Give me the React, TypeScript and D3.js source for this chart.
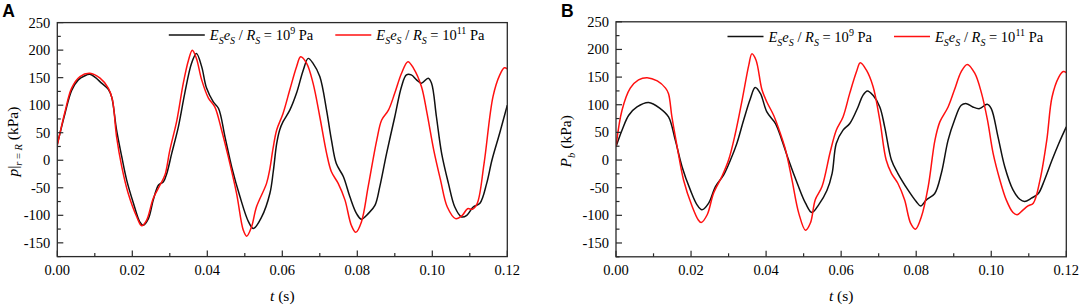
import React from "react";
import * as d3 from "d3";

// ---------- data ----------
const tTicks = [0, 0.02, 0.04, 0.06, 0.08, 0.1, 0.12];
const tTickLabels = ["0.00", "0.02", "0.04", "0.06", "0.08", "0.10", "0.12"];
const tMinorTicks = [0.01, 0.03, 0.05, 0.07, 0.09, 0.11];
const yTicks = [-150, -100, -50, 0, 50, 100, 150, 200, 250];
const yMinorTicks = [-175, -125, -75, -25, 25, 75, 125, 175, 225];
const seriesNames = ["9", "11"];

// time in ms, pressure in kPa
const panelA_E9: [number, number][] = [
  [0, 29], [2.05, 85], [3.83, 127], [5.6, 146], [7.2, 153], [8.7, 156], [10.2, 150], [11.8, 140],
  [13.6, 129], [14.5, 115], [15.8, 55], [17.2, 6], [18.5, -36], [20.3, -78], [22.0, -112], [22.9, -118],
  [24.3, -106], [25.6, -72], [27.0, -45], [28.3, -39], [29.2, -24], [30.5, 12], [32.3, 61], [34.0, 122],
  [35.8, 176], [37.1, 194], [38.5, 170], [39.8, 131], [41.6, 106], [43.0, 94], [44.7, 43], [46.5, -12],
  [48.7, -66], [51.0, -112], [52.3, -124], [54.5, -103], [56.7, -60], [57.6, -20], [58.5, 30], [59.3, 55],
  [60.2, 70], [62.0, 91], [63.8, 122], [65.6, 164], [66.9, 185], [68.2, 176], [70.0, 152], [71.8, 91],
  [73.1, 37], [74.4, -6], [76.3, -30], [78.0, -66], [79.8, -97], [81.1, -107], [82.9, -97], [84.7, -82],
  [86.0, -48], [87.8, 12], [90.0, 79], [91.8, 134], [93.1, 155], [94.4, 155], [95.8, 146], [97.1, 140],
  [98.9, 149], [99.8, 140], [101.1, 79], [102.5, 12], [104.3, -42], [106.0, -85], [107.8, -103], [109.2, -100],
  [110.9, -85], [112.7, -78], [114.5, -42], [115.9, 0], [118.0, 50], [120, 100],
];
const panelA_E11: [number, number][] = [
  [0, 27], [2.05, 88], [3.83, 131], [6.05, 152], [8.7, 158], [11.4, 149], [13.6, 131], [14.7, 110],
  [15.8, 43], [17.2, -12], [18.9, -60], [21.2, -103], [22.5, -119], [23.8, -109], [25.6, -69], [27.4, -45],
  [28.7, -27], [30.0, 18], [31.9, 73], [33.6, 140], [35.0, 182], [36.0, 200], [37.1, 185], [38.5, 146],
  [40.3, 113], [42.0, 97], [43.8, 55], [45.6, 6], [47.8, -60], [49.6, -127], [50.5, -138], [51.8, -121],
  [53.1, -85], [55.8, -42], [56.7, -15], [57.5, 20], [58.5, 55], [60.2, 85], [62.0, 128], [63.8, 170],
  [64.9, 188], [66.5, 176], [68.2, 140], [70.0, 79], [71.8, 13], [73.1, -21], [74.9, -42], [76.7, -72],
  [78.4, -118], [79.6, -131], [81.1, -112], [82.9, -48], [85.2, 37], [86.5, 73], [88.3, 91], [90.0, 122],
  [91.8, 158], [93.5, 179], [95.0, 167], [97.1, 134], [98.6, 85], [100.4, 18], [102.2, -36], [104.0, -85],
  [106.2, -106], [108.0, -100], [109.4, -88], [110.7, -89], [112.0, -78], [113.8, -6], [116.2, 116],
  [118.0, 155], [119.2, 168], [120, 166],
];
const panelB_E9: [number, number][] = [
  [0, 24], [1.6, 54], [3.4, 81], [5.6, 96], [8.7, 104], [11.8, 93], [14.0, 78], [15.8, 36],
  [17.6, -12], [19.8, -54], [21.6, -81], [22.9, -90], [24.7, -78], [26.5, -48], [28.7, -27], [30.5, 0],
  [32.2, 30], [34.0, 72], [35.8, 111], [37.1, 131], [38.5, 120], [40.2, 87], [42.5, 66], [44.2, 36],
  [46.0, 0], [48.3, -42], [50.5, -78], [52.2, -95], [54.0, -81], [56.2, -55], [57.6, -24], [58.7, 30],
  [60.5, 54], [62.3, 66], [64.5, 96], [65.8, 117], [67.0, 125], [68.5, 117], [70.3, 96], [71.6, 60],
  [73.4, 0], [75.1, -24], [77.8, -54], [80.0, -75], [81.2, -83], [82.7, -72], [84.9, -61], [86.7, -24],
  [88.5, 36], [90.2, 72], [92.0, 99], [93.4, 102], [95.1, 96], [96.9, 93], [98.9, 101], [100.0, 93],
  [101.8, 42], [103.6, -12], [105.8, -54], [107.6, -71], [108.9, -75], [110.7, -69], [112.5, -61],
  [114.2, -36], [116.2, 0], [118.0, 30], [120, 60],
];
const panelB_E11: [number, number][] = [
  [0, 24], [1.6, 90], [3.8, 130], [6.0, 145], [8.3, 149], [11.0, 143], [13.2, 130], [14.0, 120],
  [14.9, 78], [16.3, 24], [18.0, -36], [20.3, -84], [21.9, -108], [22.7, -113], [24.3, -99], [26.0, -60],
  [28.2, -30], [30.0, 0], [31.8, 48], [33.6, 108], [35.4, 172], [36.2, 192], [37.3, 181], [38.9, 127],
  [40.2, 105], [42.0, 81], [43.8, 48], [45.2, 18], [46.9, -36], [48.7, -96], [50.5, -127], [51.8, -114],
  [53.1, -72], [54.9, -48], [57.1, 15], [58.7, 54], [60.5, 78], [62.3, 121], [64.1, 160], [65.1, 176],
  [66.7, 163], [68.5, 133], [70.3, 72], [72.0, 0], [73.4, -24], [75.1, -42], [76.9, -72], [78.5, -114],
  [79.8, -125], [81.4, -102], [83.2, -48], [85.0, 36], [86.3, 69], [88.5, 96], [90.2, 127], [92.0, 160],
  [93.6, 173], [95.6, 157], [97.4, 121], [99.0, 72], [100.5, 12], [102.3, -36], [104.0, -72], [105.8, -95],
  [106.9, -99], [108.5, -90], [109.8, -83], [111.2, -78], [113.0, -36], [114.8, 36], [116.2, 114],
  [118.0, 150], [119.2, 160], [120, 158],
];

// ---------- style ----------
const SERIF = "Liberation Serif, Times New Roman, serif";
const SANS = "Liberation Sans, Arial, sans-serif";
const BLACK = "#111111";
const RED = "#ff1010";
const FRAME = "#2a2a2a";

function LegendLabel({ x, y, exp }: { x: number; y: number; exp: string }) {
  return (
    <text x={x} y={y} fontFamily={SERIF} fontSize={14.5} fill="#000" style={{ whiteSpace: "pre" }}>
      <tspan fontStyle="italic">E</tspan>
      <tspan fontStyle="italic" fontSize={10} dy={3.5}>S</tspan>
      <tspan fontStyle="italic" dy={-3.5}>e</tspan>
      <tspan fontStyle="italic" fontSize={10} dy={3.5}>S</tspan>
      <tspan dy={-3.5}>{" / "}</tspan>
      <tspan fontStyle="italic">R</tspan>
      <tspan fontStyle="italic" fontSize={10} dy={3.5}>S</tspan>
      <tspan dy={-3.5}>{" = 10"}</tspan>
      <tspan fontSize={10} dy={-6}>{exp}</tspan>
      <tspan dy={6}>{" Pa"}</tspan>
    </text>
  );
}

type PanelProps = {
  left: number;
  top: number;
  w: number;
  h: number;
  soft: [number, number][];
  stiff: [number, number][];
  letter: string;
  ylabel: React.ReactNode;
  ylabelX: number;
  legendY: number;
};

function Panel({ left, top, w, h, soft, stiff, letter, ylabel, ylabelX, legendY }: PanelProps) {
  const x = d3.scaleLinear().domain([0, 0.12]).range([0, w]);
  const y = d3.scaleLinear().domain([-175, 250]).range([h, 0]);
  const line = d3
    .line<[number, number]>()
    .x((d) => x(d[0] / 1000))
    .y((d) => y(d[1]))
    .curve(d3.curveCatmullRom.alpha(0.5));
  const clipId = `clip-${letter}`;
  return (
    <g>
      <text x={left - 55} y={16.5} fontFamily={SANS} fontWeight="bold" fontSize={17.5} fill="#000">
        {letter}
      </text>
      <g transform={`translate(${left},${top})`}>
        <defs>
          <clipPath id={clipId}>
            <rect x={0} y={0} width={w} height={h} />
          </clipPath>
        </defs>
        <g clipPath={`url(#${clipId})`}>
          <path d={line(soft) || ""} fill="none" stroke={BLACK} strokeWidth={1.5} />
          <path d={line(stiff) || ""} fill="none" stroke={RED} strokeWidth={1.5} />
        </g>
        {/* ticks */}
        {tTicks.map((t) => (
          <line key={"xt" + t} x1={x(t)} x2={x(t)} y1={h} y2={h - 6} stroke={FRAME} strokeWidth={1.2} />
        ))}
        {tMinorTicks.map((t) => (
          <line key={"xm" + t} x1={x(t)} x2={x(t)} y1={h} y2={h - 3.5} stroke={FRAME} strokeWidth={1.2} />
        ))}
        {yTicks.map((v) => (
          <line key={"yt" + v} x1={0} x2={6} y1={y(v)} y2={y(v)} stroke={FRAME} strokeWidth={1.2} />
        ))}
        {yMinorTicks.map((v) => (
          <line key={"ym" + v} x1={0} x2={3.5} y1={y(v)} y2={y(v)} stroke={FRAME} strokeWidth={1.2} />
        ))}
        <rect x={0} y={0} width={w} height={h} fill="none" stroke={FRAME} strokeWidth={1.3} />
        {/* tick labels */}
        {tTicks.map((t, i) => (
          <text key={"xl" + t} x={x(t)} y={h + 18.5} textAnchor="middle" fontFamily={SERIF} fontSize={14.5} fill="#000">
            {tTickLabels[i]}
          </text>
        ))}
        {yTicks.map((v) => (
          <text key={"yl" + v} x={-7} y={y(v) + 5} textAnchor="end" fontFamily={SERIF} fontSize={14.5} fill="#000">
            {String(v)}
          </text>
        ))}
        {/* axis titles */}
        <text x={w / 2} y={h + 44.5} textAnchor="middle" fontFamily={SERIF} fontSize={15.5} fill="#000" style={{ whiteSpace: "pre" }}>
          <tspan fontStyle="italic">t</tspan>
          <tspan>{" (s)"}</tspan>
        </text>
        <g transform={`translate(${ylabelX - left},${h / 2 + 2}) rotate(-90)`}>{ylabel}</g>
        {/* legend */}
        <line x1={111.5} x2={147.5} y1={legendY} y2={legendY} stroke={BLACK} strokeWidth={1.5} />
        <LegendLabel x={152.5} y={legendY + 5.5} exp={seriesNames[0]} />
        <line x1={278} x2={314} y1={legendY} y2={legendY} stroke={RED} strokeWidth={1.5} />
        <LegendLabel x={319} y={legendY + 5.5} exp={seriesNames[1]} />
      </g>
    </g>
  );
}

export default function App() {
  const labelA = (
    <text textAnchor="middle" fontFamily={SERIF} fontSize={15.5} fill="#000" style={{ whiteSpace: "pre" }}>
      <tspan fontStyle="italic">p</tspan>
      <tspan>|</tspan>
      <tspan fontStyle="italic" fontSize={10.5} dy={4}>r</tspan>
      <tspan fontSize={10.5}>{" = "}</tspan>
      <tspan fontStyle="italic" fontSize={10.5}>R</tspan>
      <tspan dy={-4}>{" (kPa)"}</tspan>
    </text>
  );
  const labelB = (
    <text textAnchor="middle" fontFamily={SERIF} fontSize={15.5} fill="#000" style={{ whiteSpace: "pre" }}>
      <tspan fontStyle="italic">P</tspan>
      <tspan fontStyle="italic" fontSize={10.5} dy={4}>b</tspan>
      <tspan dy={-4}>{" (kPa)"}</tspan>
    </text>
  );
  return (
    <svg width={1079} height={307} style={{ position: "absolute", left: 0, top: 0, background: "#fff" }}>
      <rect x={0} y={0} width={1079} height={307} fill="#fff" />
      <Panel left={57.3} top={22.6} w={450} h={234} soft={panelA_E9} stiff={panelA_E11} letter="A" ylabel={labelA} ylabelX={17.5} legendY={12.4} />
      <Panel left={616} top={21.8} w={450.3} h={235} soft={panelB_E9} stiff={panelB_E11} letter="B" ylabel={labelB} ylabelX={571} legendY={14.8} />
    </svg>
  );
}
